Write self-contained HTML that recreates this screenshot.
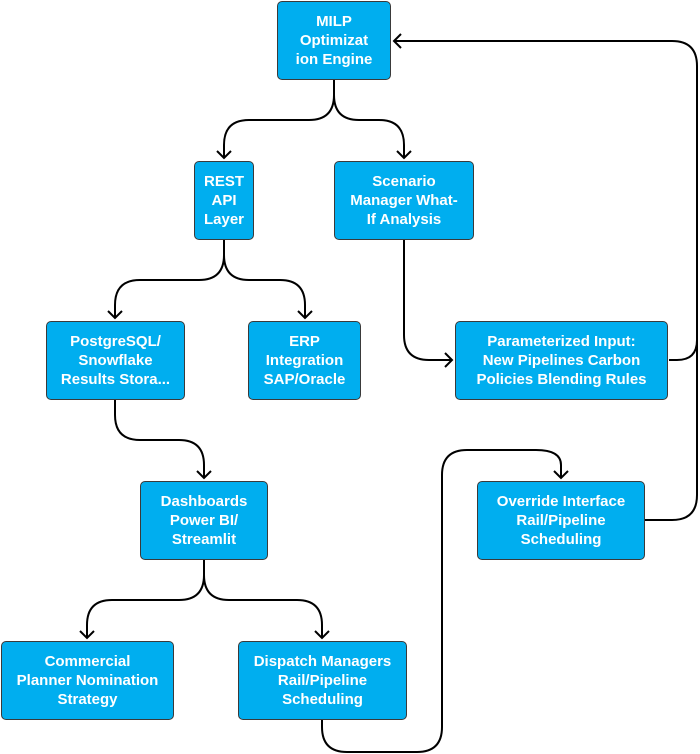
<!DOCTYPE html>
<html><head><style>
body{margin:0;background:#fff;width:700px;height:754px;position:relative;overflow:hidden;font-family:"Liberation Sans",sans-serif}
.b{position:absolute;box-sizing:border-box;background:#00AEEF;border:1.5px solid #3a3a3a;border-radius:5px;color:#fff;font-weight:bold;font-size:15px;line-height:19px;display:flex;align-items:center;justify-content:center;text-align:center;white-space:nowrap}
svg{position:absolute;left:0;top:0}
</style></head><body>
<svg width="700" height="754" fill="none" stroke="#000" stroke-width="2">
<path d="M334 80 V95 Q334 120 309 120 H249 Q224 120 224 145 V158"/>
<path d="M334 95 Q334 120 359 120 H379 Q404 120 404 145 V158"/>
<path d="M224 240 V255 Q224 280 199 280 H140 Q115 280 115 305 V318"/>
<path d="M224 255 Q224 280 249 280 H280 Q305 280 305 305 V318"/>
<path d="M404 240 V335 Q404 360 429 360 H452"/>
<path d="M669 360 H677 Q697 360 697 340 V66 Q697 41 672 41 H394"/>
<path d="M645 520 H672 Q697 520 697 495 V340"/>
<path d="M115 400 V415 Q115 440 140 440 H179 Q204 440 204 465 V478"/>
<path d="M204 560 V575 Q204 600 179 600 H112 Q87 600 87 625 V638"/>
<path d="M204 575 Q204 600 229 600 H297 Q322 600 322 625 V638"/>
<path d="M322 720 V727 Q322 752 347 752 H417 Q442 752 442 727 V475 Q442 450 467 450 H536 Q561 450 561 465 V478"/>
<g stroke-width="2"><path d="M217 151 L224 158 L231 151"/><path d="M397 151 L404 158 L411 151"/><path d="M108 311 L115 318 L122 311"/><path d="M298 311 L305 318 L312 311"/><path d="M445 353 L452 360 L445 367"/><path d="M401 34 L394 41 L401 48"/><path d="M197 471 L204 478 L211 471"/><path d="M80 631 L87 638 L94 631"/><path d="M315 631 L322 638 L329 631"/><path d="M554 471 L561 478 L568 471"/></g>
</svg>
<div class="b" style="left:277px;top:1px;width:114px;height:79px">MILP<br>Optimizat<br>ion Engine</div>
<div class="b" style="left:194px;top:161px;width:60px;height:79px">REST<br>API<br>Layer</div>
<div class="b" style="left:334px;top:161px;width:140px;height:79px">Scenario<br>Manager What-<br>If Analysis</div>
<div class="b" style="left:46px;top:321px;width:139px;height:79px">PostgreSQL/<br>Snowflake<br>Results Stora...</div>
<div class="b" style="left:248px;top:321px;width:113px;height:79px">ERP<br>Integration<br>SAP/Oracle</div>
<div class="b" style="left:455px;top:321px;width:213px;height:79px">Parameterized Input:<br>New Pipelines Carbon<br>Policies Blending Rules</div>
<div class="b" style="left:140px;top:481px;width:128px;height:79px">Dashboards<br>Power BI/<br>Streamlit</div>
<div class="b" style="left:477px;top:481px;width:168px;height:79px">Override Interface<br>Rail/Pipeline<br>Scheduling</div>
<div class="b" style="left:1px;top:641px;width:173px;height:79px">Commercial<br>Planner Nomination<br>Strategy</div>
<div class="b" style="left:238px;top:641px;width:169px;height:79px">Dispatch Managers<br>Rail/Pipeline<br>Scheduling</div>
</body></html>
